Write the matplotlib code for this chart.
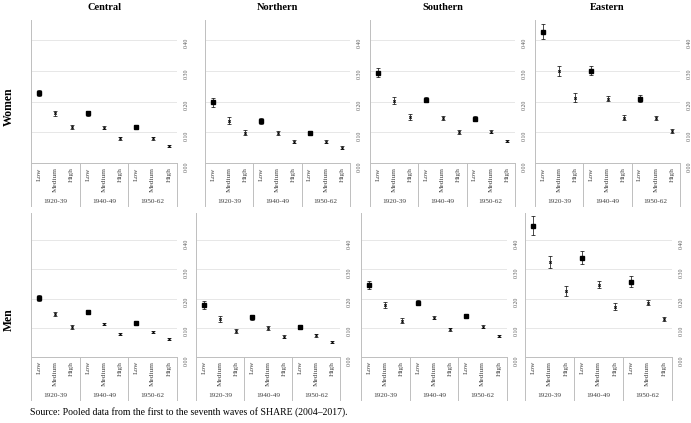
import matplotlib
matplotlib.use('Agg')
from matplotlib import pyplot as plt

plt.rcParams['font.family'] = ['Liberation Serif', 'DejaVu Serif']

regions = ['Central', 'Northern', 'Southern', 'Eastern']
sexes = ['Women', 'Men']
levels = ['Low', 'Medium', 'High']
cohorts = ['1920-39', '1940-49', '1950-62']
yticks = [0.0, 0.1, 0.2, 0.3, 0.4]

# estimates, order: 1920-39 L/M/H, 1940-49 L/M/H, 1950-62 L/M/H
women_central = [0.229, 0.162, 0.117, 0.162, 0.115, 0.081, 0.117, 0.081, 0.057]
women_northern = [0.198, 0.138, 0.099, 0.138, 0.099, 0.070, 0.099, 0.070, 0.051]
women_southern = [0.294, 0.203, 0.149, 0.206, 0.146, 0.102, 0.145, 0.102, 0.073]
women_eastern = [0.427, 0.300, 0.213, 0.301, 0.209, 0.148, 0.210, 0.148, 0.105]
men_central = [0.203, 0.147, 0.102, 0.155, 0.112, 0.079, 0.117, 0.086, 0.061]
men_northern = [0.178, 0.130, 0.090, 0.136, 0.099, 0.070, 0.102, 0.075, 0.052]
men_southern = [0.247, 0.178, 0.124, 0.186, 0.135, 0.095, 0.141, 0.104, 0.072]
men_eastern = [0.450, 0.324, 0.226, 0.340, 0.247, 0.172, 0.258, 0.186, 0.130]

# half-widths of the confidence intervals
women_central_err = [0.010, 0.008, 0.007, 0.007, 0.005, 0.004, 0.006, 0.004, 0.003]
women_northern_err = [0.015, 0.012, 0.008, 0.009, 0.006, 0.005, 0.007, 0.005, 0.004]
women_southern_err = [0.015, 0.012, 0.010, 0.008, 0.006, 0.006, 0.007, 0.005, 0.004]
women_eastern_err = [0.024, 0.016, 0.015, 0.015, 0.008, 0.008, 0.012, 0.007, 0.006]
men_central_err = [0.010, 0.008, 0.006, 0.007, 0.004, 0.004, 0.006, 0.004, 0.003]
men_northern_err = [0.013, 0.010, 0.007, 0.009, 0.006, 0.005, 0.007, 0.005, 0.004]
men_southern_err = [0.013, 0.011, 0.009, 0.008, 0.006, 0.005, 0.007, 0.005, 0.004]
men_eastern_err = [0.034, 0.021, 0.018, 0.022, 0.012, 0.012, 0.018, 0.008, 0.007]

values = {
    'Women': [women_central, women_northern, women_southern, women_eastern],
    'Men': [men_central, men_northern, men_southern, men_eastern],
}
errors = {
    'Women': [women_central_err, women_northern_err, women_southern_err, women_eastern_err],
    'Men': [men_central_err, men_northern_err, men_southern_err, men_eastern_err],
}

W, H = 691, 423
fig = plt.figure(figsize=(W / 100, H / 100), dpi=100)

# panel boxes in pixels: (left, right), top, baseline, ymax
rows = {
    'Women': dict(xs=[(31, 177), (205, 350), (370, 515), (535, 680)], top=20, base=163.3, ymax=0.465),
    'Men': dict(xs=[(31, 177), (196, 340), (361, 507), (525, 672)], top=213, base=357, ymax=0.493),
}

axcol = '#bfbfbf'
gridcol = '#e3e3e3'

for sex in sexes:
    r = rows[sex]
    hpx = r['base'] - r['top']
    for j, reg in enumerate(regions):
        l, rt = r['xs'][j]
        ax = fig.add_axes([l / W, 1 - r['base'] / H, (rt - l) / W, hpx / H])
        vals = values[sex][j]
        errs = errors[sex][j]
        xs = [i + 0.5 for i in range(9)]
        ax.errorbar(xs, vals, yerr=errs, fmt='none', ecolor='black',
                    elinewidth=0.5, capsize=1.3, capthick=0.5, zorder=3)
        for k in range(3):
            sub_x = xs[k * 3:(k + 1) * 3]
            sub_y = vals[k * 3:(k + 1) * 3]
            ax.plot(sub_x[0], sub_y[0], 's', color='black', ms=2.5, zorder=4)
            ax.plot(sub_x[1:], sub_y[1:], 'x', color='black', ms=1.7, mew=0.7,
                    linestyle='none', zorder=4)
        ax.set_xlim(0, 9)
        ax.set_ylim(0, r['ymax'])
        ax.set_yticks(yticks)
        ax.set_yticklabels(['%.2f' % t for t in yticks])
        ax.set_xticks([])
        ax.yaxis.grid(True, color=gridcol, lw=0.6)
        ax.set_axisbelow(True)
        for s in ['top', 'right']:
            ax.spines[s].set_visible(False)
        ax.spines['left'].set_color(axcol)
        ax.spines['left'].set_linewidth(0.7)
        ax.spines['bottom'].set_color(axcol)
        ax.spines['bottom'].set_linewidth(0.7)
        ax.tick_params(axis='y', left=False, labelleft=False, right=False,
                       labelright=True, length=0, pad=5, labelsize=4.2,
                       labelcolor='#595959', labelrotation=90)

        # category axis below
        below = 43 / hpx
        tr = ax.get_xaxis_transform()
        for xv in [0, 3, 6, 9]:
            ax.plot([xv, xv], [0, -below], color=axcol, lw=0.7,
                    transform=tr, clip_on=False)
        for i, xv in enumerate(xs):
            ax.text(xv, -4 / hpx, levels[i % 3], transform=tr, rotation=90,
                    ha='center', va='top', fontsize=5.2, color='#404040')
        for k, c in enumerate(cohorts):
            ax.text(k * 3 + 1.5, -38 / hpx, c, transform=tr, ha='center',
                    va='center', fontsize=5.2, color='#404040')

        if sex == 'Women':
            ax.text(0.5, 1 + 12 / hpx, reg, transform=ax.transAxes, ha='center',
                    va='center', fontsize=7.5, fontweight='bold')

fig.text(9 / W, 1 - 107 / H, 'Women', rotation=90, ha='center', va='center',
         fontsize=8.5, fontweight='bold')
fig.text(9 / W, 1 - 320 / H, 'Men', rotation=90, ha='center', va='center',
         fontsize=8.5, fontweight='bold')
fig.text(30 / W, 1 - 412 / H,
         'Source: Pooled data from the first to the seventh waves of SHARE (2004\u20132017).',
         ha='left', va='center', fontsize=7)

fig.savefig('out.png', dpi=100)
